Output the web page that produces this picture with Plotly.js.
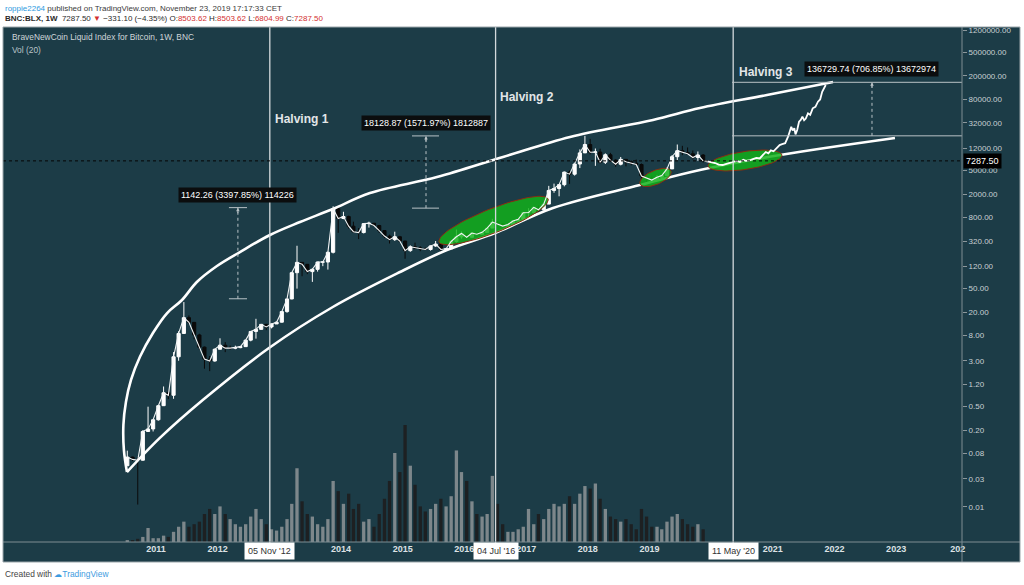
<!DOCTYPE html>
<html><head><meta charset="utf-8">
<script src="https://cdn.plot.ly/plotly-3.0.1.min.js"></script>
<style>html,body{margin:0;padding:0;background:#fff;overflow:hidden}#chart{width:1024px;height:585px}</style>
</head><body><div id="chart"></div>
<script>
// ---------------- DATA ----------------
// Monthly BLX candles, Jul 2010 .. Nov 2019
const open = [
  0.05,0.07,0.064,0.062,0.19,0.21,
  0.30,0.52,0.86,0.78,3.5,8.7,16.1,13.4,8.2,5.1,3.2,2.97,
  4.7,5.5,4.9,4.9,5.0,5.2,6.7,9.4,10.2,12.4,11.2,12.6,
  13.5,20.4,33.4,93,139,129,97,106,141,141,206,1130,
  770,830,570,460,445,630,640,585,480,388,338,378,
  320,220,255,245,235,230,264,284,230,236,314,377,
  430,370,437,416,448,530,670,625,573,610,700,745,
  965,970,1190,1080,1350,2300,2480,2880,4700,4340,6450,9950,
  13800,10200,10300,6900,9250,7500,6390,7730,7030,6630,6320,4040,
  3740,3450,3850,4100,5330,8570,10820,10090,9600,8300,9150];
const high = [
  0.09,0.071,0.07,0.2,0.5,0.3,
  0.52,1.1,0.95,4.2,9.5,29.6,17.5,13.4,8.6,5.2,3.6,4.8,
  7.2,6.2,5.4,5.4,5.2,6.8,9.4,15.4,12.5,12.6,12.8,13.8,
  20.6,33.4,95,266,140,130,110,141,144,212,1240,1156,
  1000,860,680,530,630,680,640,600,490,410,460,390,
  320,270,300,260,248,268,320,285,245,330,500,465,
  460,440,440,465,550,760,700,630,620,720,755,975,
  1150,1200,1290,1350,2750,3000,2920,4750,5000,6450,11400,19300,
  17200,11800,11700,9750,9950,7760,8480,7760,7400,7650,6580,4300,
  4100,4200,4150,5630,9100,13800,13100,12300,10900,10500,9500];
const low = [
  0.05,0.06,0.011,0.061,0.19,0.19,
  0.29,0.75,0.67,0.68,3.0,8.7,12.5,6.9,4.6,2.2,2.0,2.9,
  4.7,4.2,4.6,4.7,4.9,5.2,6.4,7.1,10.1,9.9,10.6,12.6,
  13.3,19.5,33,50,81,88,65,97,120,105,197,440,
  750,520,440,345,430,540,570,440,360,290,320,305,
  160,210,240,215,225,220,255,195,225,236,300,350,
  355,365,400,410,440,530,600,470,570,605,690,745,
  750,920,890,1060,1350,2100,1830,2700,2970,4100,5500,10900,
  9400,6000,6600,6450,7050,5780,6110,5880,6150,6200,3500,3150,
  3370,3400,3700,4100,5330,7500,9100,9300,7750,7300,6805];
const close = [
  0.07,0.064,0.062,0.19,0.21,0.30,
  0.52,0.86,0.78,3.5,8.7,16.1,13.4,8.2,5.1,3.2,2.97,4.7,
  5.5,4.9,4.9,5.0,5.2,6.7,9.4,10.2,12.4,11.2,12.6,13.5,
  20.4,33.4,93,139,129,97,106,141,141,206,1130,770,
  830,570,460,445,630,640,585,480,388,338,378,320,
  220,255,245,235,230,264,284,230,236,314,377,430,
  370,437,416,448,530,670,625,573,610,700,745,965,
  970,1190,1080,1350,2300,2480,2880,4700,4340,6450,9950,13800,
  10200,10300,6900,9250,7500,6390,7730,7030,6630,6320,4040,3740,
  3450,3850,4100,5330,8570,10820,10090,9600,8300,9150,7287.5];
const volume = [
  1.5,1.5,2.5,4,11,3,
  3,5,4,8,12,16,12,14,16,22,26,22,
  28,22,18,14,12,14,20,26,18,14,10,9,
  12,18,30,58,32,22,20,14,12,18,48,40,
  30,38,26,30,16,18,12,22,34,48,70,55,
  92,60,45,28,24,26,30,34,28,36,72,55,
  48,32,22,20,22,52,30,14,8,8,10,12,
  26,14,22,18,26,30,28,30,36,30,38,44,
  42,46,34,26,20,18,16,18,14,10,26,20,
  12,12,10,16,20,22,18,14,12,14,10];
const firstMonth = {year: 2010, month: 7};

// Projected path (bars pattern) after Nov 2019
const projDates = ['2019-11-25','2019-12-15','2020-01-05','2020-01-25','2020-02-15','2020-03-10','2020-04-01','2020-04-20','2020-05-10','2020-06-01','2020-06-20','2020-07-10','2020-07-25','2020-08-15','2020-09-05','2020-09-25','2020-10-15','2020-11-01','2020-11-20','2020-12-05','2020-12-20','2021-01-05','2021-01-25','2021-02-10','2021-02-25','2021-03-15','2021-04-01','2021-04-10','2021-04-20','2021-04-28','2021-05-08','2021-05-15','2021-05-25','2021-06-05','2021-06-15','2021-06-25','2021-07-05','2021-07-15','2021-07-28','2021-08-10','2021-08-25','2021-09-10','2021-09-25','2021-10-08','2021-10-20','2021-11-10'];
const projValues = [7300,7100,7000,6700,6300,6200,6500,6700,7000,7300,7000,7600,7300,7400,7800,8200,8000,9000,10300,9800,11000,10600,12000,13500,14000,14500,18700,22000,27600,24000,26000,20500,24300,33600,36000,40800,35500,38000,46600,44000,56600,60000,73300,80000,108100,140600];

// Hand-drawn channel curves
const upperDates = ['2010-07-13','2010-06-25','2010-06-22','2010-07-07','2010-08-06','2010-09-28','2010-12-14','2011-03-08','2011-06-04','2011-08-31','2011-12-28','2012-05-12','2012-11-06','2013-05-03','2013-11-13','2014-06-21','2015-07-23','2016-08-17','2017-09-18','2019-01-22','2019-10-27','2020-11-27','2021-12-23'];
const upperValues = [0.039,0.092,0.245,0.60,1.42,3.5,8.85,19.3,32.1,64.7,120.8,208,405,672,1114,2080,3882,8474,18500,35900,57300,95100,157900];
const lowerDates = ['2010-07-13','2011-01-24','2011-10-05','2012-10-31','2013-11-13','2014-12-16','2015-09-20','2016-07-01','2017-06-09','2018-11-06','2019-10-27','2021-02-13','2022-12-25'];
const lowerValues = [0.039,0.148,0.649,4.93,24.4,95.5,225,437,1159,2843,5103,9160,17780];

// Green accumulation ellipses (start point, end point)
const ellipseStartDates = ['2015-08-04','2018-11-06','2019-12-14'];
const ellipseStartValues = [307.6,2960,5970];
const ellipseEndDates = ['2017-05-11','2019-05-09','2021-02-24'];
const ellipseEndValues = [1648,4910,9160];

// Halvings
const halvingDates = ['2012-11-05','2016-07-04','2020-05-11'];
const halvingNames = ['Halving 1','Halving 2','Halving 3'];
const halvingTags = ["05 Nov '12","04 Jul '16","11 May '20"];

// Price range measurements
const measureDates = ['2012-04-30','2015-05-19','2022-08-11'];
const measureFrom = ['2012-03-08','2015-02-25','2020-05-04'];
const measureTo = ['2012-06-23','2015-08-04',null];
const measureLow = [33.62,1153.25,19343.6];
const measureHigh = [1175.88,19282.12,156073];
const measureLabels = ['1142.26 (3397.85%) 114226','18128.87 (1571.97%) 1812887','136729.74 (706.85%) 13672974'];

const lastPrice = 7287.5;
const xYears = [2011,2012,2014,2015,2016,2017,2018,2019,2021,2022,2023,2024];
const yTickVals = [0.01,0.03,0.08,0.2,0.5,1.2,3,8,20,50,120,320,800,2000,5000,12000,32000,80000,200000,500000,1200000];

// ---------------- LAYOUT CONSTANTS ----------------
const W = 1024, H = 585, ML = 3, MR = 62, MT = 27, MB = 43;
const PW = W - ML - MR, PH = H - MT - MB;
const xRange = ['2008-07-09','2024-01-26'];
const yRange = [-2.593, 6.13];
const BG = '#1c3c47';
const FONT = 'Liberation Sans, Arial, sans-serif';
const px2paperX = p => (p - ML) / PW;
const px2paperY = p => (H - MB - p) / PH;

// ---------------- BUILD ----------------
const candleDates = close.map((_, i) => {
  const m = firstMonth.month - 1 + i;
  const y = firstMonth.year + Math.floor(m / 12);
  return y + '-' + String(m % 12 + 1).padStart(2, '0') + '-15';
});
const volColors = close.map((c, i) => c >= open[i] ? '#7d878b' : '#1d2022');

function ms(d) { return new Date(d.replace(' ', 'T') + (d.length <= 10 ? 'T00:00:00Z' : 'Z')).getTime(); }
const pxPerMs = PW / (ms(xRange[1]) - ms(xRange[0]));
const pxPerDec = PH / (yRange[1] - yRange[0]);
function ellipse(d0, v0, d1, v1, halfW) {
  const ax = ms(d0) * pxPerMs, ay = Math.log10(v0) * pxPerDec;
  const bx = ms(d1) * pxPerMs, by = Math.log10(v1) * pxPerDec;
  const cx = (ax + bx) / 2, cy = (ay + by) / 2;
  const a = Math.hypot(bx - ax, by - ay) / 2;
  const ux = (bx - ax) / (2 * a), uy = (by - ay) / (2 * a);
  const vx = -uy, vy = ux;
  const xs = [], ys = [];
  for (let k = 0; k <= 80; k++) {
    const t = k / 80 * 2 * Math.PI;
    const px = cx + a * Math.cos(t) * ux + halfW * Math.sin(t) * vx;
    const py = cy + a * Math.cos(t) * uy + halfW * Math.sin(t) * vy;
    xs.push(new Date(px / pxPerMs).toISOString().replace('T', ' ').replace('Z', ''));
    ys.push(Math.pow(10, py / pxPerDec));
  }
  return {xs, ys};
}
const ellipseHalfWidths = [12, 7, 9];

const traces = [];
traces.push({type: 'bar', x: candleDates, y: volume, yaxis: 'y', marker: {color: volColors, line: {width: 0}}, hoverinfo: 'skip', showlegend: false});
traces.push({type: 'scatter', mode: 'lines', x: lowerDates, y: lowerValues, yaxis: 'y2', line: {color: '#ffffff', width: 2.6, shape: 'spline', smoothing: 1}, hoverinfo: 'skip', showlegend: false});
traces.push({type: 'scatter', mode: 'lines', x: upperDates, y: upperValues, yaxis: 'y2', line: {color: '#ffffff', width: 2.6, shape: 'spline', smoothing: 1}, hoverinfo: 'skip', showlegend: false});
ellipseStartDates.forEach((d, i) => {
  const e = ellipse(d, ellipseStartValues[i], ellipseEndDates[i], ellipseEndValues[i], ellipseHalfWidths[i]);
  traces.push({type: 'scatter', mode: 'lines', x: e.xs, y: e.ys, yaxis: 'y2', fill: 'toself', fillcolor: 'rgba(18,178,26,0.84)', line: {color: '#8a2c12', width: 1}, hoverinfo: 'skip', showlegend: false});
});
// thin path through the closes so the weekly-looking series reads as one continuous line
traces.push({type: 'scatter', mode: 'lines', x: candleDates, y: close, yaxis: 'y2', line: {color: '#f2f4f5', width: 1.1}, hoverinfo: 'skip', showlegend: false});
traces.push({type: 'candlestick', x: candleDates, open, high, low, close, yaxis: 'y2',
  increasing: {line: {color: '#ffffff', width: 1}, fillcolor: '#ffffff'},
  decreasing: {line: {color: '#0a0a0a', width: 1}, fillcolor: '#0a0a0a'},
  whiskerwidth: 0, hoverinfo: 'skip', showlegend: false});
traces.push({type: 'scatter', mode: 'lines', x: projDates, y: projValues, yaxis: 'y2', line: {color: '#ffffff', width: 1.8}, hoverinfo: 'skip', showlegend: false});

const shapes = [];
// panel background
shapes.push({type: 'rect', xref: 'paper', yref: 'paper', x0: 0, x1: px2paperX(1020), y0: px2paperY(562), y1: 1, fillcolor: BG, line: {width: 0}, layer: 'below'});
// halving lines
halvingDates.forEach(d => shapes.push({type: 'line', xref: 'x', yref: 'paper', x0: d, x1: d, y0: px2paperY(552), y1: 1, line: {color: '#d3d9dc', width: 1.3}}));
// last price dotted line
shapes.push({type: 'line', xref: 'paper', yref: 'y2', x0: 0, x1: 1, y0: lastPrice, y1: lastPrice, line: {color: '#050505', width: 1, dash: 'dot'}});
// measurements
const MC = '#b9c2c6';
measureDates.forEach((d, i) => {
  const xEnd = measureTo[i] ? measureTo[i] : xRange[1];
  [measureLow[i], measureHigh[i]].forEach(v => {
    shapes.push({type: 'line', xref: 'x', yref: 'y2', x0: measureFrom[i], x1: xEnd, y0: v, y1: v, line: {color: MC, width: 1}});
  });
  shapes.push({type: 'line', xref: 'x', yref: 'y2', x0: d, x1: d, y0: measureLow[i], y1: measureHigh[i], line: {color: MC, width: 1, dash: '3px,3px'}});
});
// borders / separators
const BC = '#7f8d93';
shapes.push({type: 'line', xref: 'paper', yref: 'paper', x0: 1, x1: 1, y0: px2paperY(562), y1: 1, line: {color: BC, width: 1}});
shapes.push({type: 'line', xref: 'paper', yref: 'paper', x0: 0, x1: px2paperX(1020), y0: 0, y1: 0, line: {color: BC, width: 1}});
shapes.push({type: 'rect', xref: 'paper', yref: 'paper', x0: 0, x1: px2paperX(1020), y0: px2paperY(562), y1: 1, line: {color: '#9aa5aa', width: 1}, layer: 'above'});

const annotations = [];
// header
annotations.push({xref: 'paper', yref: 'paper', x: px2paperX(3), y: px2paperY(8), xanchor: 'left', yanchor: 'middle', showarrow: false,
  text: "<span style='color:#2e9ae0'>roppie2264</span> published on TradingView.com, November 23, 2019 17:17:33 CET", font: {family: FONT, size: 8, color: '#3a3a3a'}});
const R = "<span style='color:#d32f2f'>";
annotations.push({xref: 'paper', yref: 'paper', x: px2paperX(3), y: px2paperY(18.5), xanchor: 'left', yanchor: 'middle', showarrow: false,
  text: "<b>BNC:BLX, 1W</b>  7287.50 " + R + "▼</span> −331.10 (−4.35%) O:" + R + "8503.62</span> H:" + R + "8503.62</span> L:" + R + "6804.99</span> C:" + R + "7287.50</span>", font: {family: FONT, size: 8, color: '#2a2a2a'}});
// footer
annotations.push({xref: 'paper', yref: 'paper', x: px2paperX(3), y: px2paperY(574), xanchor: 'left', yanchor: 'middle', showarrow: false,
  text: "Created with <span style='color:#3d9be0'>☁</span><span style='color:#3d9be0'>TradingView</span>", font: {family: FONT, size: 8.4, color: '#444'}});
// panel titles
annotations.push({xref: 'paper', yref: 'paper', x: px2paperX(10), y: px2paperY(37), xanchor: 'left', yanchor: 'middle', showarrow: false,
  text: 'BraveNewCoin Liquid Index for Bitcoin, 1W, BNC', font: {family: FONT, size: 8.4, color: '#cfd6d9'}});
annotations.push({xref: 'paper', yref: 'paper', x: px2paperX(10), y: px2paperY(50), xanchor: 'left', yanchor: 'middle', showarrow: false,
  text: 'Vol (20)', font: {family: FONT, size: 8.4, color: '#b9c3c7'}});
// halving names and tags
const halvingY = [119, 97, 72];
const halvingShift = [3, 2, 4];
halvingDates.forEach((d, i) => {
  annotations.push({xref: 'x', yref: 'paper', x: d, y: px2paperY(halvingY[i]), xanchor: 'left', yanchor: 'middle', xshift: halvingShift[i], showarrow: false,
    text: '<b>' + halvingNames[i] + '</b>', font: {family: FONT, size: 12, color: '#e2e6e8'}});
  annotations.push({xref: 'x', yref: 'paper', x: d, y: px2paperY(550.5), xanchor: 'center', yanchor: 'middle', showarrow: false,
    text: halvingTags[i], bgcolor: '#ffffff', borderpad: 3, font: {family: FONT, size: 9, color: '#333'}});
});
// measurement labels + arrowheads
measureDates.forEach((d, i) => {
  annotations.push({xref: 'x', yref: 'y2', x: d, y: Math.log10(measureHigh[i]), xanchor: 'center', yanchor: 'bottom', yshift: 5, showarrow: false,
    text: measureLabels[i], bgcolor: '#0b0d0e', borderpad: 2, font: {family: FONT, size: 9, color: '#ffffff'}});
  annotations.push({xref: 'x', yref: 'y2', x: d, y: Math.log10(measureHigh[i]), ax: 0, ay: 7, text: '', showarrow: true, arrowhead: 2, arrowsize: 0.7, arrowwidth: 1, arrowcolor: MC});
});
// last price label
annotations.push({xref: 'paper', yref: 'y2', x: 1, y: Math.log10(lastPrice), xanchor: 'left', yanchor: 'middle', xshift: 1, showarrow: false,
  text: '7287.50', bgcolor: '#000000', borderpad: 2, font: {family: FONT, size: 9, color: '#ffffff'}});

const layout = {
  width: W, height: H,
  margin: {l: ML, r: MR, t: MT, b: MB, pad: 0},
  paper_bgcolor: '#ffffff', plot_bgcolor: BG,
  showlegend: false, bargap: 0.3, boxgap: 0.05,
  xaxis: {type: 'date', range: xRange, rangeslider: {visible: false}, showgrid: false, zeroline: false, showline: false,
    tickvals: xYears.map(y => y + '-01-01'), ticktext: xYears.map(y => y === 2024 ? '202' : String(y)),
    ticks: '', ticklen: 0,
    tickfont: {family: FONT, size: 9, color: '#dde2e5', weight: 'bold'}, fixedrange: true},
  yaxis: {range: [0, 405], visible: false, showgrid: false, zeroline: false, fixedrange: true},
  yaxis2: {type: 'log', overlaying: 'y', side: 'right', range: yRange, showgrid: false, zeroline: false, showline: false,
    tickvals: yTickVals, ticktext: yTickVals.map(v => v.toFixed(2)),
    ticks: 'outside', ticklen: 4, tickcolor: '#8c979c',
    tickfont: {family: FONT, size: 8, color: '#c8d0d3'}, fixedrange: true},
  shapes, annotations
};
Plotly.newPlot('chart', traces, layout, {staticPlot: true, displayModeBar: false});
</script></body></html>
